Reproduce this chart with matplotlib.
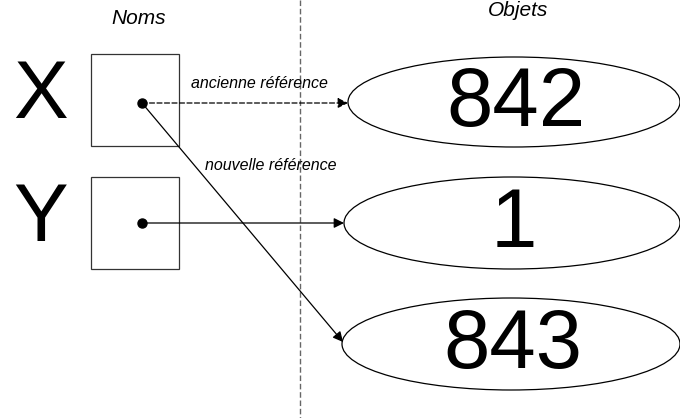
import matplotlib
matplotlib.use('Agg')
import matplotlib.pyplot as plt
from matplotlib.patches import Ellipse, Rectangle

plt.rcParams['font.family'] = ['Liberation Sans', 'DejaVu Sans']

names = ['X', 'Y']
objects = ['842', '1', '843']
header_names = 'Noms'
header_objects = 'Objets'
label_old = 'ancienne référence'
label_new = 'nouvelle référence'

fig = plt.figure(figsize=(6.8, 4.18), dpi=100)
ax = fig.add_axes([0, 0, 1, 1])
ax.set_xlim(0, 680)
ax.set_ylim(418, 0)
ax.axis('off')

# separator
ax.plot([300, 300], [0, 418], color='#666666', lw=1, ls=(0, (4, 2)))

ax.text(139, 19, header_names, ha='center', va='center', style='italic', fontsize=15)
ax.text(518, 11, header_objects, ha='center', va='center', style='italic', fontsize=15)

# name boxes
box_y = [100, 223]
dot_off = [3, 0]
dots = []
for name, yc, off in zip(names, box_y, dot_off):
    ax.add_patch(Rectangle((91, yc - 46), 88, 92, fill=False, ec='#333333', lw=0.9))
    ax.text(41, yc - 3, name, ha='center', va='center', fontsize=59)
    dots.append((142, yc + off))
    ax.plot(142, yc + off, 'o', color='black', ms=6.5)

# objects
ell = [(514, 102, 332, 90), (512, 223, 336, 92), (511, 344, 338, 92)]
for txt, (cx, cy, w, h) in zip(objects, ell):
    ax.add_patch(Ellipse((cx, cy), w, h, fill=False, ec='black', lw=0.9))
    ax.text(cx + 2, cy + 2, txt, ha='center', va='center', fontsize=60)

def arrow(p0, p1, ls='-'):
    ax.annotate('', xy=p1, xytext=p0,
                arrowprops=dict(arrowstyle='-|>', color='black', lw=0.9,
                                ls=ls, mutation_scale=15, shrinkA=0, shrinkB=0))

arrow(dots[0], (348, 103), ls=(0, (4, 2)))
arrow(dots[1], (344, 223))
arrow(dots[0], (343, 342))

ax.text(259, 84, label_old, ha='center', va='center', style='italic', fontsize=11.5)
ax.text(271, 165, label_new, ha='center', va='center', style='italic', fontsize=11.5)

fig.savefig('out.png', dpi=100)
